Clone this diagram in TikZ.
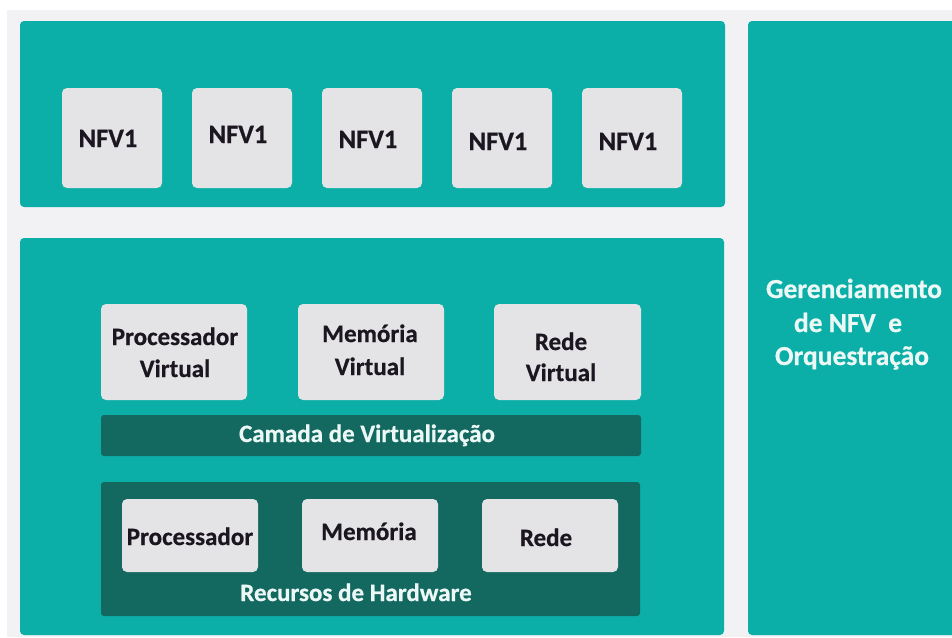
\documentclass[tikz,border=0pt]{standalone}
\usepackage{fontspec}
\setmainfont{Carlito}[BoldFeatures={FakeBold=0.6}]
\definecolor{pagebg}{RGB}{242,242,244}
\definecolor{tealpanel}{RGB}{11,175,167}
\definecolor{tealdark}{RGB}{19,104,96}
\definecolor{boxgray}{RGB}{228,228,230}
\definecolor{inkdark}{RGB}{28,22,32}
\definecolor{inklight}{RGB}{236,248,245}
\tikzset{
  panel/.style={fill=tealpanel, draw=none, rounded corners=4pt, inner sep=0pt},
  darkband/.style={fill=tealdark, draw=none, rounded corners=3pt, inner sep=0pt},
  graybox/.style={fill=boxgray, draw=none, rounded corners=5pt, inner sep=0pt},
  darklabel/.style={text=inkdark, font=\bfseries\fontsize{25}{30}\selectfont, anchor=base, inner sep=0pt},
  nfvlabel/.style={darklabel, font=\bfseries\fontsize{26.5}{30}\selectfont},
  lightlabel/.style={text=inklight, font=\bfseries\fontsize{25}{30}\selectfont, anchor=base, inner sep=0pt},
  sidelabel/.style={lightlabel, font=\bfseries\fontsize{27.5}{33}\selectfont},
}
\begin{document}
\begin{tikzpicture}[x=1pt, y=-1pt]
\useasboundingbox (0,0) rectangle (952,637);
\fill[white] (0,0) rectangle (952,637);
\fill[pagebg] (7,10) rectangle (952,637);

% three main panels
\node[panel, minimum width=705pt, minimum height=186pt] (vnfpanel) at (372.5,114) {};
\node[panel, minimum width=704pt, minimum height=397pt] (nfvipanel) at (372,436.5) {};
\node[panel, minimum width=214pt, minimum height=614pt] (manopanel) at (855,328) {};

% virtual network functions
\foreach \i/\x/\b in {1/112/147, 2/242/143, 3/372/148, 4/502/150, 5/632/150} {
  \node[graybox, minimum width=100pt, minimum height=100pt] (nfv\i) at (\x,138) {};
  \node[nfvlabel] (nfvtext\i) at (\x-4,\b) {NFV1};
}

% virtual resources
\node[graybox, minimum width=146pt, minimum height=96pt] (vcpu) at (174,352) {};
\node[graybox, minimum width=146pt, minimum height=96pt] (vmem) at (371,352) {};
\node[graybox, minimum width=147pt, minimum height=96pt] (vnet) at (567.5,352) {};
\node[darklabel] (vcpuA) at (175,345) {Processador};
\node[darklabel] (vcpuB) at (175,377) {Virtual};
\node[darklabel] (vmemA) at (370,342) {Memória};
\node[darklabel] (vmemB) at (370,375) {Virtual};
\node[darklabel] (vnetA) at (561,350) {Rede};
\node[darklabel] (vnetB) at (561,381) {Virtual};

% virtualization layer
\node[darkband, minimum width=540pt, minimum height=41pt] (virtlayer) at (371,435.5) {};
\node[lightlabel] (virttext) at (367,442) {Camada de Virtualização};

% hardware resources
\node[darkband, minimum width=539pt, minimum height=134pt] (hwlayer) at (370.5,549) {};
\node[graybox, minimum width=136pt, minimum height=73pt] (cpu) at (190,535.5) {};
\node[graybox, minimum width=136pt, minimum height=73pt] (mem) at (370,535.5) {};
\node[graybox, minimum width=136pt, minimum height=73pt] (net) at (550,535.5) {};
\node[darklabel] (cputext) at (190,545) {Processador};
\node[darklabel] (memtext) at (369,540) {Memória};
\node[darklabel] (nettext) at (546,546) {Rede};
\node[lightlabel] (hwtext) at (356,601) {Recursos de Hardware};

% management and orchestration
\node[sidelabel] (manoA) at (854,298) {Gerenciamento};
\node[sidelabel] (manoB) at (848,332) {de NFV~~e};
\node[sidelabel] (manoC) at (852,365) {Orquestração};
\end{tikzpicture}
\end{document}
